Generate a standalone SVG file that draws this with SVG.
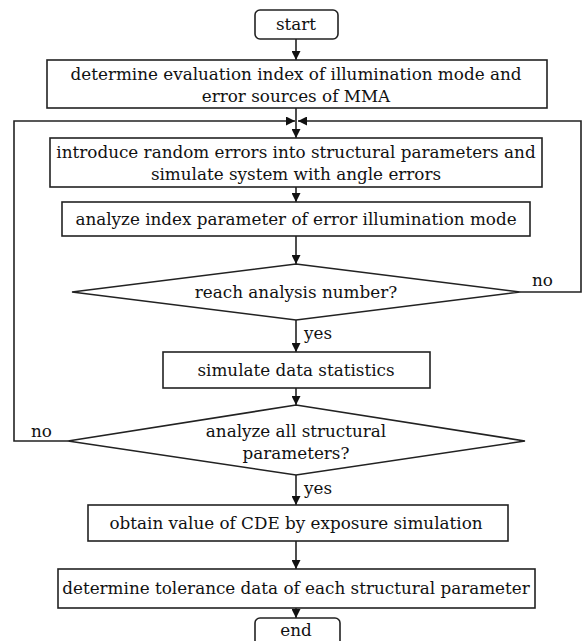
<svg xmlns="http://www.w3.org/2000/svg" width="585" height="641" viewBox="0 0 585 641">
<defs>
<marker id="ah" viewBox="0 0 10 10" refX="10" refY="5" markerWidth="9" markerHeight="9" markerUnits="userSpaceOnUse" orient="auto">
<path d="M0,0 L10,5 L0,10 z" fill="#111"/>
</marker>
<style>
.b{fill:#fff;stroke:#222;stroke-width:1.6}
.c{fill:none;stroke:#222;stroke-width:1.6}
.t{font-family:"DejaVu Serif","Liberation Serif",serif;font-size:16.8px;fill:#111;text-anchor:middle}
.l{font-family:"DejaVu Serif","Liberation Serif",serif;font-size:16.8px;fill:#111}
</style>
</defs>
<rect width="585" height="641" fill="#fff"/>
<g id="connectors">
<line class="c" x1="296" y1="39" x2="296" y2="60" marker-end="url(#ah)"/>
<line class="c" x1="296" y1="108" x2="296" y2="138" marker-end="url(#ah)"/>
<polyline class="c" points="68,441 14,441 14,121 295,121" marker-end="url(#ah)"/>
<polyline class="c" points="520,292 581,292 581,121 298,121" marker-end="url(#ah)"/>
<line class="c" x1="296" y1="187" x2="296" y2="202" marker-end="url(#ah)"/>
<line class="c" x1="296" y1="236" x2="296" y2="264" marker-end="url(#ah)"/>
<line class="c" x1="296" y1="320" x2="296" y2="352" marker-end="url(#ah)"/>
<line class="c" x1="296" y1="388" x2="296" y2="405" marker-end="url(#ah)"/>
<line class="c" x1="296" y1="475" x2="296" y2="505" marker-end="url(#ah)"/>
<line class="c" x1="296" y1="541" x2="296" y2="569" marker-end="url(#ah)"/>
<line class="c" x1="296" y1="608" x2="296" y2="618" marker-end="url(#ah)"/>
<text class="l" x="532" y="286">no</text>
<text class="l" x="31" y="437">no</text>
<text class="l" x="304" y="339">yes</text>
<text class="l" x="304" y="494">yes</text>
</g>
<g id="start">
<rect class="b" x="255" y="10" width="83" height="29" rx="5"/>
<text class="t" x="296" y="30">start</text>
</g>
<g id="determine-index">
<rect class="b" x="47" y="60" width="500" height="48"/>
<text class="t" x="296" y="80">determine evaluation index of illumination mode and</text>
<text class="t" x="296" y="102">error sources of MMA</text>
</g>
<g id="introduce-errors">
<rect class="b" x="50" y="138" width="492" height="49"/>
<text class="t" x="296" y="158">introduce random errors into structural parameters and</text>
<text class="t" x="296" y="180">simulate system with angle errors</text>
</g>
<g id="analyze-index">
<rect class="b" x="62" y="202" width="468" height="34"/>
<text class="t" x="296" y="225">analyze index parameter of error illumination mode</text>
</g>
<g id="reach-number">
<polygon class="b" points="296,264 520,292 296,320 72,292"/>
<text class="t" x="296" y="298">reach analysis number?</text>
</g>
<g id="simulate-statistics">
<rect class="b" x="163" y="352" width="267" height="36"/>
<text class="t" x="296" y="376">simulate data statistics</text>
</g>
<g id="analyze-all">
<polygon class="b" points="296,405 525,441 296,475 68,441"/>
<text class="t" x="296" y="437">analyze all structural</text>
<text class="t" x="296" y="459">parameters?</text>
</g>
<g id="obtain-cde">
<rect class="b" x="88" y="505" width="420" height="36"/>
<text class="t" x="296" y="529">obtain value of CDE by exposure simulation</text>
</g>
<g id="determine-tolerance">
<rect class="b" x="58" y="569" width="477" height="39"/>
<text class="t" x="296" y="594">determine tolerance data of each structural parameter</text>
</g>
<g id="end">
<rect class="b" x="255" y="618" width="85" height="30" rx="5"/>
<text class="t" x="296" y="636">end</text>
</g>
</svg>
